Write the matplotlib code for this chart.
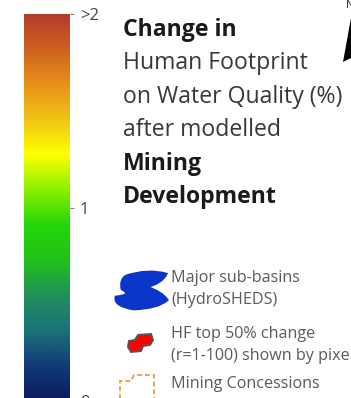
import numpy as np
import matplotlib
matplotlib.use("Agg")
import matplotlib.pyplot as plt
from matplotlib.colors import LinearSegmentedColormap
from matplotlib.patches import Polygon, PathPatch
from matplotlib.path import Path

plt.rcParams['font.family'] = ['Open Sans', 'DejaVu Sans']

# escala de color (0 abajo, 2 arriba)
colores = ['#0c1a5e', '#123a78', '#1b7378', '#21905a', '#22c21a', '#24d60a',
           '#8cf000', '#ffff00', '#f0c414', '#e8901a', '#cf6020', '#b23c2c']
valoresTicks = [0, 1, 2]
etiquetasTicks = ['0', '1', '>2']

titulo = [('Change in', 'bold'), ('Human Footprint', 'normal'),
          ('on Water Quality (%)', 'normal'), ('after modelled', 'normal'),
          ('Mining', 'bold'), ('Development', 'bold')]

leyenda = [['Major sub-basins', '(HydroSHEDS)'],
           ['HF top 50% change', '(r=1-100) shown by pixel'],
           ['Mining Concessions']]

W, H = 351, 398
fig = plt.figure(figsize=(W / 100, H / 100), dpi=100)
fig.patch.set_facecolor('white')

# barra de color
cmap = LinearSegmentedColormap.from_list('hf', colores)
axBarra = fig.add_axes([24 / W, 1 - 401 / H, 46 / W, 387 / H])
gradiente = np.linspace(0, 2, 256).reshape(-1, 1)
axBarra.imshow(gradiente, cmap=cmap, aspect='auto', origin='lower',
               extent=[0, 1, 0, 2])
axBarra.set_xticks([])
axBarra.yaxis.tick_right()
axBarra.set_yticks(valoresTicks)
axBarra.set_yticklabels(etiquetasTicks)
axBarra.tick_params(axis='y', length=3, width=0.8, color='#888888',
                    labelsize=12, labelcolor='#444444', pad=4)
for s in axBarra.spines.values():
    s.set_visible(False)

# capa en pixeles para textos y simbolos
ax = fig.add_axes([0, 0, 1, 1])
ax.set_xlim(0, W)
ax.set_ylim(H, 0)
ax.axis('off')

yLinea = 30
for texto, peso in titulo:
    ax.text(123, yLinea, texto, fontsize=16.6, fontweight=peso,
            color='#1a1a1a' if peso == 'bold' else '#383838', va='center')
    yLinea += 33.4

# simbolo subcuencas (mancha azul)
verts = [(126, 276), (148, 269), (166, 274), (162, 283), (146, 287),
         (162, 292), (167, 300), (158, 308), (134, 309), (114, 306),
         (116, 297), (134, 295), (122, 289), (120, 280), (126, 276)]
codes = [Path.MOVETO] + [Path.CURVE3] * 14
ax.add_patch(PathPatch(Path(verts, codes), facecolor='#0a35c8',
                       edgecolor='#0a35c8', lw=2))

# simbolo pixeles HF
rojo = [(138, 335), (151, 334), (153, 340), (150, 345), (143, 346),
        (141, 351), (131, 352), (128, 347), (129, 341), (135, 340)]
ax.add_patch(Polygon(rojo, closed=True, facecolor='#ff0000',
                     edgecolor='#555555', lw=1.4))

# simbolo concesiones
conc = [(120, 400), (120, 381), (131, 381), (134, 375), (154, 375),
        (154, 400)]
ax.add_patch(Polygon(conc, closed=True, fill=False, edgecolor='#e8a84a',
                     lw=1.4, linestyle=(0, (2.5, 1.5))))

yItems = [(278, 300), (334, 356), (384,)]
for lineas, ys in zip(leyenda, yItems):
    for texto, y in zip(lineas, ys):
        ax.text(171, y, texto, fontsize=11.6, color='#5a5a5a', va='center')

# flecha norte
ax.add_patch(Polygon([(351, 18), (351, 58), (343, 62)], closed=True,
                     facecolor='black', edgecolor='none'))
ax.text(346, 6, 'N', fontsize=8, color='#222222', va='center')

fig.savefig('out.png', dpi=100)
